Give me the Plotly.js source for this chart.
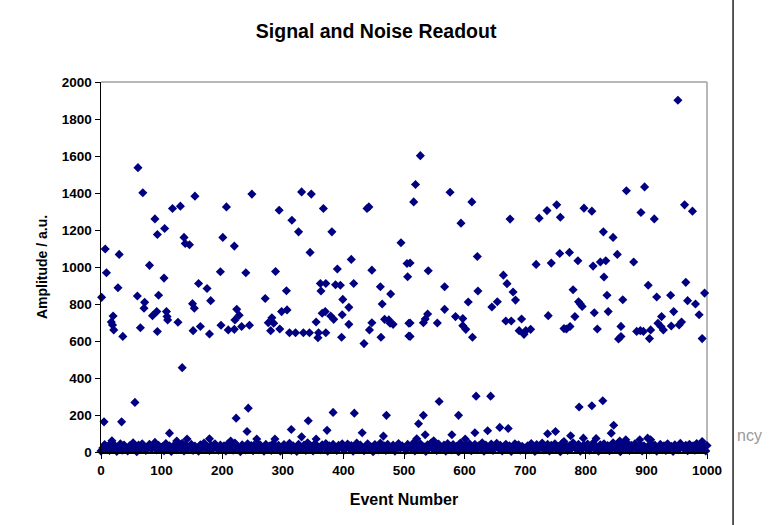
<!DOCTYPE html>
<html>
<head>
<meta charset="utf-8">
<script src="https://cdn.plot.ly/plotly-3.0.1.min.js"></script>
<style>html,body{margin:0;padding:0;background:#fff;}#chart{width:769px;height:525px;}</style>
</head>
<body>
<div id="chart"></div>
<script>
// Signal events (upper band, 450-1900)
const signalEvent = [61,69,89,118,131,155,93,105,137,139,146,207,249,201,220,7,30,80,9,104,28,1,60,72,71,95,161,175,181,151,154,197,239,224,228,221,20,17,21,19,36,65,93,85,92,108,109,110,127,134,152,164,179,198,210,220,232,245,
331,347,294,367,315,326,381,439,442,345,495,413,505,506,288,390,447,362,371,387,395,417,461,306,363,271,399,478,464,409,298,307,365,370,379,384,398,282,276,285,280,295,311,321,334,344,355,359,358,371,409,397,434,447,443,462,468,475,477,482,508,508,
527,519,516,576,612,594,675,723,736,752,758,621,510,540,567,622,606,664,670,680,684,654,645,718,743,757,567,510,510,539,535,532,555,585,597,597,602,613,668,677,694,690,698,701,709,738,764,
867,897,797,810,891,913,963,976,829,845,773,787,812,824,833,852,879,830,779,835,861,903,917,940,965,996,968,981,788,791,794,814,837,782,945,987,768,774,819,858,854,858,884,890,895,907,905,919,925,924,928,941,954,958,992,952];
const signalAmp = [1537,1401,1260,1316,1329,1383,1176,1208,1160,1127,1120,1325,1394,1160,1113,1097,1068,1009,969,940,888,836,843,809,777,847,911,884,818,802,777,974,969,771,739,714,735,703,660,687,625,672,651,737,759,759,732,714,701,456,656,678,638,685,660,663,678,685,
1406,1394,1307,1316,1253,1190,1190,1316,1325,1079,1131,1041,1019,947,976,989,983,911,911,904,901,911,893,872,870,830,825,854,800,782,759,768,750,759,735,717,742,726,699,696,656,665,645,645,645,645,703,645,618,645,690,620,586,699,660,620,717,714,696,690,696,627,
1602,1446,1352,1404,1352,1237,1259,1264,1305,1336,1269,1057,1022,980,893,870,811,956,910,865,821,812,784,1014,1021,1073,771,697,625,746,719,699,697,732,721,683,663,620,708,708,719,656,636,656,663,737,667,
1412,1433,1318,1302,1295,1260,1336,1302,1190,1160,1079,1034,1005,1027,1034,1068,1027,946,877,847,823,901,838,847,917,859,818,800,812,800,787,753,759,732,759,742,665,678,665,679,611,624,652,656,652,660,613,696,732,678,660,681,687,703,613,1901];

// Low-band outliers (100-300)
const outlierEvent = [56,5,34,223,243,241,113,18,125,142,179,214,383,418,471,342,314,373,431,466,331,287,355,257,619,643,558,590,532,524,658,672,638,617,535,579,750,737,521,601,549,828,810,789,846,842,775,796,817,866,856,902,889,907,764,992];
const outlierAmp = [268,163,163,183,237,111,102,61,59,70,72,59,214,210,198,169,122,117,104,86,82,70,70,70,302,302,273,198,198,153,133,127,115,104,93,93,111,99,72,70,61,277,250,243,145,102,88,75,73,66,59,75,66,66,57,57];

// Noise band (0-55)
const noiseEvent = [0,3,6,9,12,14,17,20,23,26,29,32,35,38,41,44,47,50,53,56,59,62,65,68,71,74,77,80,83,86,89,92,95,98,
101,104,107,110,113,116,119,122,125,128,131,134,137,140,143,146,149,152,155,158,161,164,167,170,173,176,179,182,185,188,191,194,197,
200,203,206,209,212,215,218,221,224,227,230,233,236,239,242,245,248,251,254,257,260,263,266,269,272,275,278,281,284,287,290,293,296,299,
302,305,308,311,314,317,320,323,326,329,332,335,338,341,344,347,350,353,356,359,362,365,368,371,374,377,380,383,386,389,392,395,398,
401,404,407,410,413,416,419,422,425,428,431,434,437,440,443,446,449,452,455,458,461,464,467,470,473,476,479,482,485,488,491,494,497,
500,503,506,509,512,515,518,521,524,527,530,533,536,539,542,545,548,551,554,557,560,563,566,569,572,575,578,581,584,587,590,593,596,599,
602,605,608,611,614,617,620,623,626,629,632,635,638,641,644,647,650,653,656,659,662,665,668,671,674,677,680,683,686,689,692,695,698,
701,704,707,710,713,716,719,722,725,728,731,734,737,740,743,746,749,752,755,758,761,764,767,770,773,776,779,782,785,788,791,794,797,
800,803,806,809,812,815,818,821,824,827,830,833,836,839,842,845,848,851,854,857,860,863,866,869,872,875,878,881,884,887,890,893,896,899,
902,905,908,911,914,917,920,923,926,929,932,935,938,941,944,947,950,953,956,959,962,965,968,971,974,977,980,983,986,989,992,995,998,1000];
const noiseAmp = [5,22,40,12,31,8,48,18,35,3,27,44,10,38,21,6,33,15,50,25,2,37,14,45,20,9,30,42,16,26,52,11,36,19,
28,7,46,17,34,3,24,41,13,30,20,47,6,36,15,27,42,9,32,19,4,39,23,49,12,29,8,35,18,45,24,10,38,
14,33,6,43,21,27,10,48,31,16,2,39,25,11,44,20,35,7,29,51,13,38,22,4,41,17,32,9,46,26,14,36,5,23,
40,12,28,47,8,34,19,3,42,25,14,37,9,50,22,31,6,44,17,27,11,39,24,46,5,33,15,41,20,8,36,28,45,
10,29,43,18,35,4,26,49,13,38,21,7,32,45,16,27,2,40,23,11,48,19,34,8,42,25,14,37,5,30,46,20,33,
24,9,41,30,16,47,6,35,20,44,12,28,3,39,25,50,14,33,8,43,22,17,37,5,46,27,11,40,19,31,2,48,26,13,
36,18,45,7,29,41,12,33,22,50,4,38,26,15,43,9,31,47,20,36,6,24,42,14,34,3,28,44,17,39,10,31,21,
8,34,19,46,27,3,40,15,31,49,11,25,42,6,36,21,44,13,30,2,47,24,37,9,33,18,50,26,12,41,5,29,38,
20,43,10,32,48,16,27,4,39,23,45,12,35,7,29,50,18,38,25,2,42,14,31,46,9,36,21,44,13,28,40,6,33,17,
30,11,44,22,37,5,27,41,15,34,8,45,19,31,3,39,24,12,47,28,16,36,7,42,21,33,10,46,25,14,38,29,6,35];

const xTicks = [0,100,200,300,400,500,600,700,800,900,1000];
const yTicks = [0,200,400,600,800,1000,1200,1400,1600,1800,2000];

const xs = signalEvent.concat(outlierEvent, noiseEvent);
const ys = signalAmp.concat(outlierAmp, noiseAmp);

const FONT = 'Liberation Sans, Arial, sans-serif';

const trace = {
  x: xs, y: ys, type: 'scatter', mode: 'markers', cliponaxis: false,
  marker: {symbol: 'diamond', size: 7, color: '#000080', line: {width: 0}},
  hoverinfo: 'x+y', showlegend: false
};

const axisCommon = {
  showline: true, linecolor: '#000', linewidth: 1.5,
  ticks: 'outside', ticklen: 5, tickcolor: '#000', tickwidth: 1,
  showgrid: false, zeroline: false,
  tickfont: {family: FONT, size: 13.5, color: '#000', weight: 'bold'}
};

const layout = {
  width: 769, height: 525,
  margin: {l: 101, r: 62, t: 82, b: 73},
  paper_bgcolor: '#fff', plot_bgcolor: '#fff',
  title: {text: '<b>Signal and Noise Readout</b>', x: 0.454, xref: 'paper', xanchor: 'center', y: 0.94, yanchor: 'middle',
          font: {family: FONT, size: 19.5, color: '#000'}},
  xaxis: Object.assign({}, axisCommon, {
    range: [0, 1000], tickvals: xTicks, ticktext: xTicks.map(String),
    title: {text: '<b>Event Number</b>', font: {family: FONT, size: 16, color: '#000'}, standoff: 17}
  }),
  yaxis: Object.assign({}, axisCommon, {
    range: [0, 2000], tickvals: yTicks, ticktext: yTicks.map(String),
    title: {text: '<b>Amplitude / a.u.</b>', font: {family: FONT, size: 14, color: '#000'}, standoff: 11}
  }),
  shapes: [
    {type: 'line', xref: 'paper', yref: 'paper', x0: 0, x1: 1, y0: 1, y1: 1, line: {color: '#a0a0a0', width: 1.5}, layer: 'below'},
    {type: 'line', xref: 'paper', yref: 'paper', x0: 1, x1: 1, y0: 0, y1: 1, line: {color: '#a0a0a0', width: 1.5}, layer: 'below'},
    {type: 'line', xref: 'paper', yref: 'paper', x0: 1.043, x1: 1.043, y0: -0.2, y1: 1.23, line: {color: '#222', width: 1.5}}
  ],
  annotations: [
    {text: 'ncy', xref: 'paper', yref: 'paper', x: 1.047, y: 0.045, xanchor: 'left', yanchor: 'middle', showarrow: false,
     font: {family: FONT, size: 16, color: '#999'}}
  ]
};

Plotly.newPlot('chart', [trace], layout, {displayModeBar: false, staticPlot: true});
</script>
</body>
</html>
